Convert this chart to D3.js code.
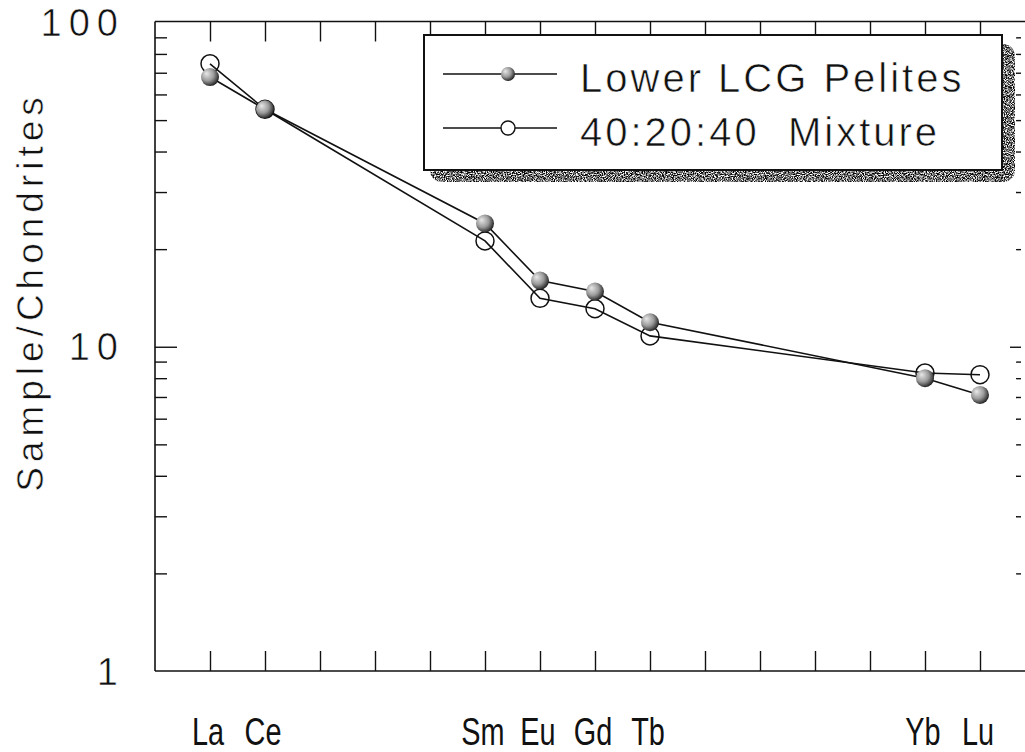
<!DOCTYPE html>
<html>
<head>
<meta charset="utf-8">
<script src="https://cdn.jsdelivr.net/npm/d3@7"></script>
<style>
  html, body { margin: 0; padding: 0; background: #fff; }
  svg { display: block; }
  text { font-family: "Liberation Sans", Arial, Helvetica, sans-serif; fill: #111; }
  text.thin { stroke: #fff; stroke-width: 0.6px; }
</style>
</head>
<body>
<svg id="chart" width="1025" height="752"></svg>
<script>
// Rare earth element positions along the x axis (chondrite-normalised REE pattern)
const elements = ["La", "Ce", "Pr", "Nd", "Pm", "Sm", "Eu", "Gd", "Tb", "Dy", "Ho", "Er", "Tm", "Yb", "Lu"];
// Elements that were analysed and are labelled
const analysed = ["La", "Ce", "Sm", "Eu", "Gd", "Tb", "Yb", "Lu"];
// Sample/Chondrite ratios
const lowerLCGPelites = [67.9, 54.0, 24.0, 16.0, 14.8, 11.9, 8.0, 7.1];
const mixture404020 = [74.6, 54.0, 21.2, 14.1, 13.1, 10.8, 8.3, 8.2];
// Y axis labelled ticks and minor ticks
const yMajor = [1, 10, 100];
const yMinor = [2, 3, 4, 5, 6, 7, 8, 9, 20, 30, 40, 50, 60, 70, 80, 90];
const legendLabels = ["Lower LCG Pelites", "40:20:40  Mixture"];

const svg = d3.select("#chart");
const plotLeft = 155, plotRight = 1021, plotTop = 22.5, plotBottom = 671;

const x = d3.scalePoint().domain(elements).range([210, 980]);
const y = d3.scaleLog().domain([1, 100]).range([plotBottom, plotTop]);

const defs = svg.append("defs");
// shaded ball for the filled symbols
const grad = defs.append("radialGradient").attr("id", "ball")
  .attr("cx", "0.4").attr("cy", "0.4").attr("r", "0.65").attr("fx", "0.3").attr("fy", "0.3");
grad.append("stop").attr("offset", "0").attr("stop-color", "#e8e8e8");
grad.append("stop").attr("offset", "0.55").attr("stop-color", "#9a9a9a");
grad.append("stop").attr("offset", "0.85").attr("stop-color", "#444");
grad.append("stop").attr("offset", "1").attr("stop-color", "#111");
// stippled texture for the legend's drop shadow
const grain = defs.append("filter").attr("id", "grain")
  .attr("x", "0").attr("y", "0").attr("width", "1").attr("height", "1");
grain.append("feTurbulence").attr("type", "fractalNoise").attr("baseFrequency", "0.9")
  .attr("numOctaves", 2).attr("seed", 7).attr("result", "noise");
grain.append("feColorMatrix").attr("in", "noise").attr("type", "matrix")
  .attr("values", "0 0 0 0 0  0 0 0 0 0  0 0 0 0 0  3.0 0 0 0 -0.95").attr("result", "dots");
grain.append("feComposite").attr("in", "dots").attr("in2", "SourceGraphic").attr("operator", "in");

// frame
const frame = svg.append("g").attr("stroke", "#111").attr("stroke-width", 1.6).attr("fill", "none");
frame.append("line").attr("x1", plotLeft).attr("x2", plotLeft).attr("y1", plotTop - 1).attr("y2", plotBottom);
frame.append("line").attr("x1", plotLeft).attr("x2", 1025).attr("y1", plotTop - 1).attr("y2", plotTop - 1);
frame.append("line").attr("x1", plotLeft).attr("x2", 1025).attr("y1", plotBottom).attr("y2", plotBottom);

function styleAxis(g) {
  g.select(".domain").remove();
  g.selectAll(".tick line").attr("stroke", "#111").attr("stroke-width", 1.4);
  g.selectAll(".tick text").remove();
}

// x ticks, top and bottom, pointing into the plot
svg.append("g").attr("transform", `translate(0,${plotTop - 1})`)
  .call(d3.axisBottom(x).tickSize(20).tickFormat("")).call(styleAxis);
svg.append("g").attr("transform", `translate(0,${plotBottom})`)
  .call(d3.axisTop(x).tickSize(20).tickFormat("")).call(styleAxis);

// y ticks, left
svg.append("g").attr("transform", `translate(${plotLeft},0)`)
  .call(d3.axisRight(y).tickValues(yMinor).tickSize(12).tickFormat("")).call(styleAxis);
svg.append("g").attr("transform", `translate(${plotLeft},0)`)
  .call(d3.axisRight(y).tickValues([10]).tickSize(22).tickFormat("")).call(styleAxis);
// y ticks, right
svg.append("g").attr("transform", `translate(${plotRight},0)`)
  .call(d3.axisLeft(y).tickValues(yMinor).tickSize(5).tickFormat("")).call(styleAxis);
svg.append("g").attr("transform", `translate(${plotRight},0)`)
  .call(d3.axisLeft(y).tickValues([10]).tickSize(11).tickFormat("")).call(styleAxis);

// y tick labels
svg.append("g").selectAll("text").data(yMajor).join("text")
  .attr("class", "thin")
  .attr("x", 125).attr("y", d => y(d) + 13.5)
  .attr("text-anchor", "end")
  .style("font-size", "38px").style("letter-spacing", "7px")
  .text(d => d);

// y axis title
svg.append("text")
  .attr("class", "thin")
  .attr("transform", "translate(43,292) rotate(-90)")
  .attr("text-anchor", "middle")
  .style("font-size", "37px").style("letter-spacing", "5px")
  .text("Sample/Chondrites");

// element labels (narrow lettering)
svg.append("g").selectAll("text").data(analysed).join("text")
  .attr("transform", d => `translate(${x(d) - 2},745) scale(0.76,1)`)
  .attr("text-anchor", "middle")
  .style("font-size", "38px")
  .text(d => d);

// series lines
const line = d3.line().x((d, i) => x(analysed[i])).y(d => y(d));
svg.append("path").datum(mixture404020).attr("d", line)
  .attr("fill", "none").attr("stroke", "#111").attr("stroke-width", 1.6);
svg.append("path").datum(lowerLCGPelites).attr("d", line)
  .attr("fill", "none").attr("stroke", "#111").attr("stroke-width", 1.6);

// open symbols
svg.append("g").selectAll("circle").data(mixture404020).join("circle")
  .attr("cx", (d, i) => x(analysed[i])).attr("cy", d => y(d)).attr("r", 9)
  .attr("fill", "none").attr("stroke", "#111").attr("stroke-width", 1.5);
// filled symbols
svg.append("g").selectAll("circle").data(lowerLCGPelites).join("circle")
  .attr("cx", (d, i) => x(analysed[i])).attr("cy", d => y(d)).attr("r", 9)
  .attr("fill", "url(#ball)");

// legend
const lg = svg.append("g");
lg.append("rect").attr("x", 430).attr("y", 44).attr("width", 585).attr("height", 138).attr("rx", 12)
  .attr("fill", "#000").attr("filter", "url(#grain)");
lg.append("rect").attr("x", 424).attr("y", 35).attr("width", 578).attr("height", 135)
  .attr("fill", "#fff").attr("stroke", "#111").attr("stroke-width", 2);
const rows = [
  { label: legendLabels[0], cy: 74, filled: true },
  { label: legendLabels[1], cy: 128, filled: false }
];
rows.forEach(r => {
  lg.append("line").attr("x1", 443).attr("x2", 557).attr("y1", r.cy).attr("y2", r.cy)
    .attr("stroke", "#111").attr("stroke-width", 1.6);
  lg.append("circle").attr("cx", 508).attr("cy", r.cy).attr("r", 7)
    .attr("fill", r.filled ? "url(#ball)" : "#fff")
    .attr("stroke", r.filled ? "none" : "#111").attr("stroke-width", 1.4);
  lg.append("text").attr("class", "thin").attr("x", 580).attr("y", r.cy + 18)
    .attr("xml:space", "preserve").style("white-space", "pre")
    .style("font-size", "40px").style("letter-spacing", "3px")
    .text(r.label);
});
</script>
</body>
</html>
